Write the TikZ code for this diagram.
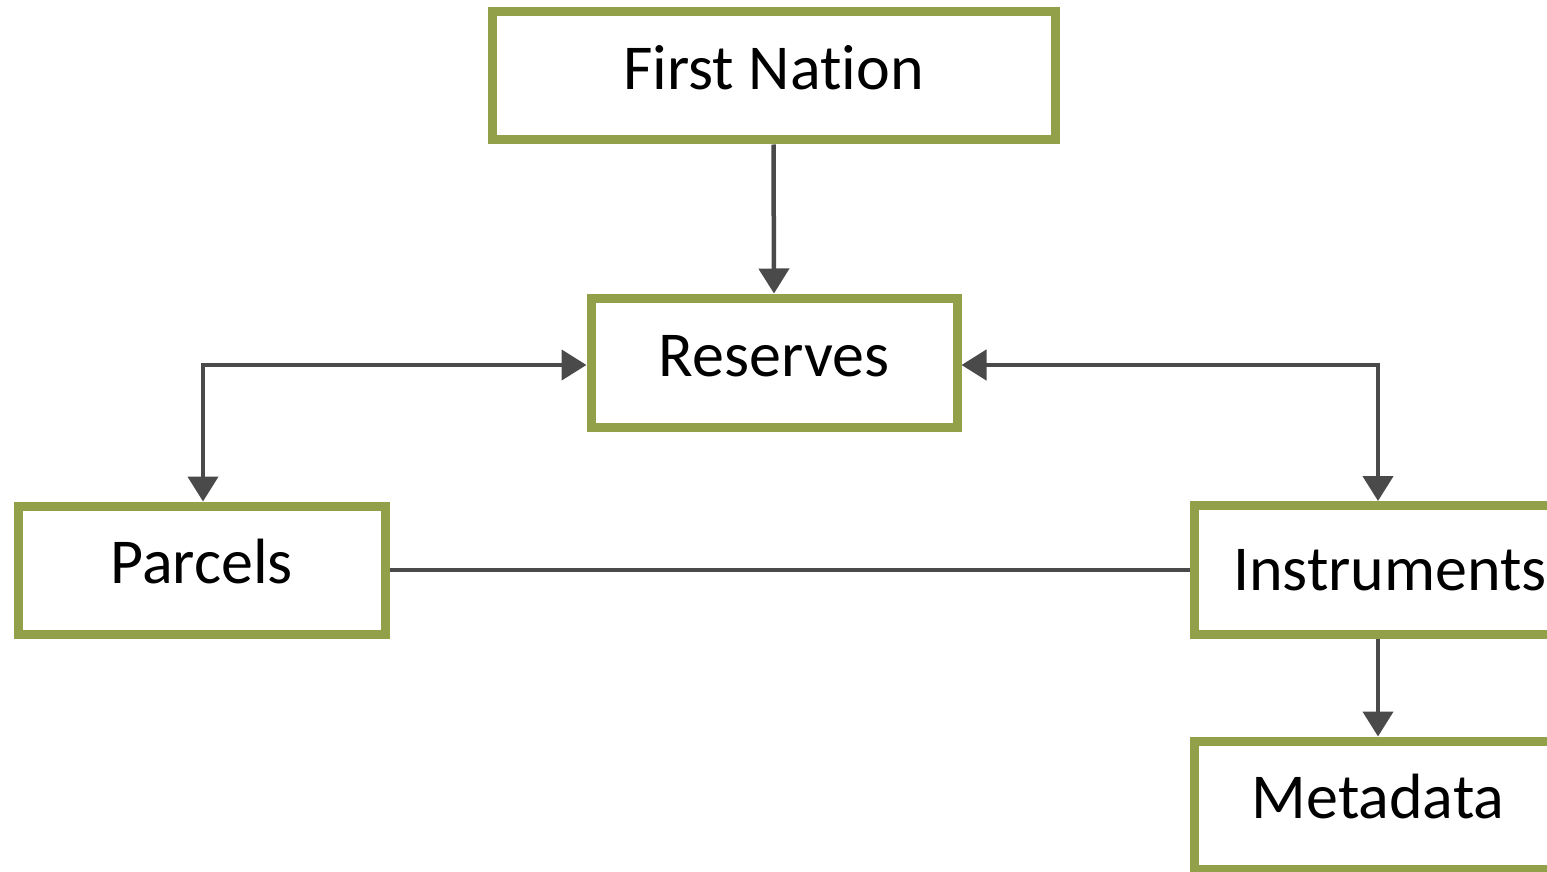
\documentclass[tikz,border=0pt]{standalone}
\usepackage{fontspec}
\setmainfont{Carlito}[Ligatures={NoCommon}]
\usetikzlibrary{arrows.meta}
\definecolor{boxgreen}{HTML}{93A04A}
\definecolor{arrgray}{HTML}{4A4A4A}
\begin{document}
\begin{tikzpicture}[x=1pt,y=-1pt,
  box/.style={draw=boxgreen, line width=9pt, fill=white, inner sep=0pt,
    font=\fontsize{64}{76}\selectfont, text height=44pt, text depth=17pt},
  conn/.style={draw=arrgray, line width=4.5pt},
  arr/.style={conn, -{Triangle[width=30pt,length=25pt]}},
  dblarr/.style={conn, {Triangle[width=30pt,length=25pt]}-{Triangle[width=30pt,length=25pt]}}]
\useasboundingbox (0,0) rectangle (1547,872);
\node[box, minimum width=563pt, minimum height=128pt] (fn) at (773.5,76) {First Nation};
\node[box, minimum width=366pt, minimum height=129pt] (res) at (774,362.5) {Reserves};
\node[box, minimum width=367pt, minimum height=128pt] (par) at (201.5,570) {Parcels};
\node[box, minimum width=392pt, minimum height=129pt, text depth=3pt] (inst) at (1390,570) {Instruments};
\node[box, minimum width=368pt, minimum height=128pt, text depth=18pt] (meta) at (1378,805) {Metadata};
\draw[arr] (fn.south) -- (res.north);
\draw[dblarr] ([xshift=1.5pt]par.north) |- ([yshift=-2.5pt]res.west);
\draw[dblarr] ([xshift=-12pt]inst.north) |- ([yshift=-2.5pt]res.east);
\draw[conn] (par.east) -- (inst.west);
\draw[arr] ([xshift=-12pt]inst.south) -- (meta.north);
\end{tikzpicture}
\end{document}
